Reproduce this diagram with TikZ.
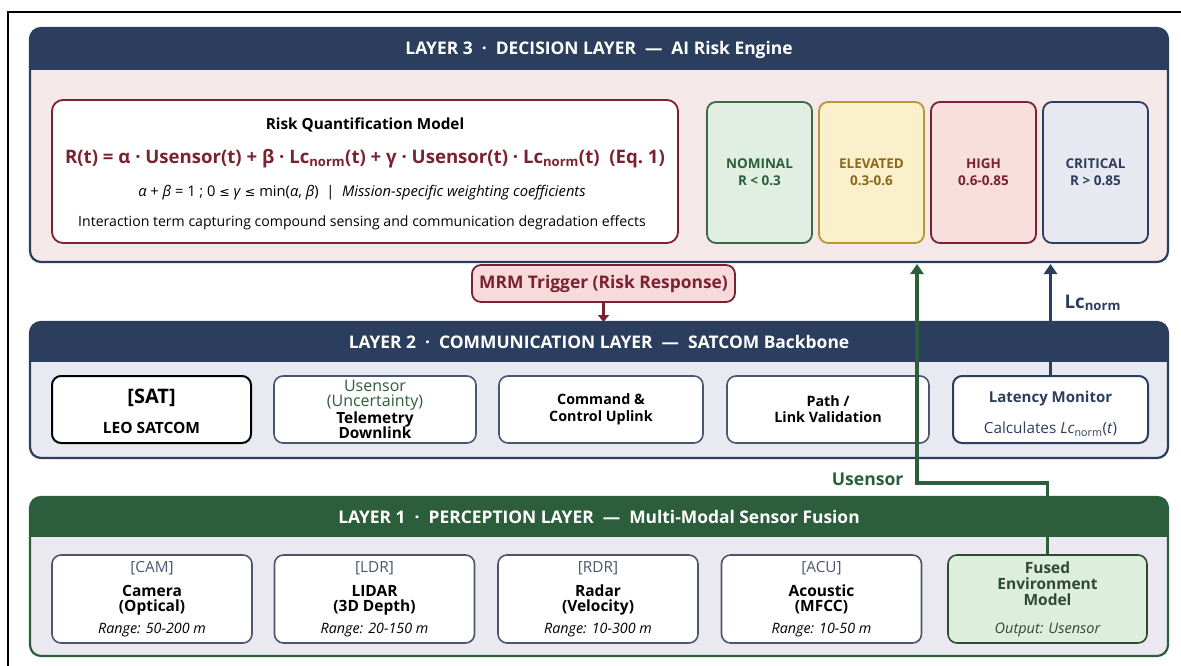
\documentclass[tikz,border=0pt]{standalone}
\usepackage{fontspec}
\setmainfont{Open Sans}
\newfontfamily\symfont{DejaVu Sans}
\usetikzlibrary{arrows.meta}

\definecolor{navy}{HTML}{2C3E5E}
\definecolor{leafgreen}{HTML}{2D5E3B}
\definecolor{wine}{HTML}{7B2231}
\definecolor{slateline}{HTML}{4A5670}
\definecolor{bodythree}{HTML}{F4E8E9}
\definecolor{bodytwo}{HTML}{E8EAF2}
\definecolor{bodyone}{HTML}{E9E9EF}
\definecolor{nomfill}{HTML}{E0EFE2}
\definecolor{nomline}{HTML}{3A6B45}
\definecolor{elefill}{HTML}{FBF0CC}
\definecolor{eleline}{HTML}{B8963A}
\definecolor{eletext}{HTML}{8C6A1A}
\definecolor{highfill}{HTML}{F9DEDE}
\definecolor{critfill}{HTML}{E7E8F0}
\definecolor{mrmfill}{HTML}{F6DADC}
\definecolor{fusedfill}{HTML}{DDEEDD}
\definecolor{fusedline}{HTML}{2E4A33}

\newcommand{\fs}[2]{\fontsize{#1}{#2}\selectfont}

\tikzset{
  hdrtext/.style={text=white, font=\bfseries\fs{17.4}{17}},
  levelbox/.style={rounded corners=9pt, line width=1.8pt, minimum width=105,
    minimum height=141, align=center, font=\bfseries\fs{13.5}{17}},
  commbox/.style={draw=slateline, fill=white, rounded corners=9pt, line width=1.6pt,
    minimum height=67, align=center},
  sensbox/.style={draw=slateline, fill=white, rounded corners=9pt, line width=1.6pt,
    minimum height=88, minimum width=200, align=center, font=\fs{15.5}{15}},
  flow/.style={line width=3.2pt, -{Triangle[width=13pt,length=10pt]}}
}

\begin{document}
\begin{tikzpicture}[x=1pt,y=-1pt]
\useasboundingbox (0,0) rectangle (1181,666);

% frame
\draw[line width=1.4pt] (8,666) -- (8,12) -- (1181,12);

% layer 3
\begin{scope}
  \clip[rounded corners=11pt] (30,28) rectangle (1168,262);
  \fill[bodythree] (30,28) rectangle (1168,262);
  \fill[navy] (30,28) rectangle (1168,70);
\end{scope}
\draw[navy, line width=2.2pt, rounded corners=11pt] (30,28) rectangle (1168,262);
\node[hdrtext] (head3) at (599,50) {LAYER 3~~·~~DECISION LAYER~~—~~AI Risk Engine};

\node[draw=wine, fill=white, rounded corners=11pt, line width=1.8pt,
  minimum width=626, minimum height=143] (risk) at (365,171.5) {};
\node[font=\bfseries\fs{15.3}{16}] (risktitle) at (365,125) {Risk Quantification Model};
\node[font=\bfseries\fs{18.6}{19}, text=wine] (riskeq) at (365,159)
  {R(t) = α · Usensor(t) + β · Lc\textsubscript{norm}(t) + γ · Usensor(t) · Lc\textsubscript{norm}(t)~~(Eq.~1)};
\node[font=\fs{14.7}{15}] (riskcon) at (362,193)
  {\textit{α} + \textit{β} = 1 ; 0 {\symfont\fs{12.5}{13}≤} \textit{γ} {\symfont\fs{12.5}{13}≤} min(\textit{α}, \textit{β})~~|~~\textit{Mission-specific weighting coefficients}};
\node[font=\fs{14.1}{15}] (riskint) at (362,223)
  {Interaction term capturing compound sensing and communication degradation effects};

\node[levelbox, draw=nomline, fill=nomfill, text=leafgreen] (nominal) at (759.5,172.5) {NOMINAL\\R < 0.3};
\node[levelbox, draw=eleline, fill=elefill, text=eletext] (elevated) at (871.5,172.5) {ELEVATED\\0.3-0.6};
\node[levelbox, draw=wine, fill=highfill, text=wine] (high) at (983.5,172.5) {HIGH\\0.6-0.85};
\node[levelbox, draw=navy, fill=critfill, text=navy] (critical) at (1095.5,172.5) {CRITICAL\\R > 0.85};

% MRM trigger
\node[draw=wine, fill=mrmfill, rounded corners=9pt, line width=1.8pt, text=wine,
  minimum width=263, minimum height=37, font=\bfseries\fs{17.4}{17}] (mrm) at (603.5,283.5)
  {MRM Trigger (Risk Response)};
\coordinate (mrmend) at (603.5,322);
\draw[wine, line width=2.6pt, -{Triangle[width=11pt,length=7pt]}] (mrm.south) -- (mrmend);

% layer 2
\begin{scope}
  \clip[rounded corners=11pt] (30,322) rectangle (1168,458);
  \fill[bodytwo] (30,322) rectangle (1168,458);
  \fill[navy] (30,322) rectangle (1168,362);
\end{scope}
\draw[navy, line width=2.2pt, rounded corners=11pt] (30,322) rectangle (1168,458);
\node[hdrtext] (head2) at (599,342) {LAYER 2~~·~~COMMUNICATION LAYER~~—~~SATCOM Backbone};

\node[commbox, draw=black, line width=2pt, minimum width=199, font=\bfseries\fs{15.5}{15}] (sat) at (151.5,409.5)
  {\rule{0pt}{19pt}{\fs{20}{15}[SAT]}\\[15pt]LEO SATCOM};
\node[commbox, minimum width=202, font=\fs{16}{15.5}] (telem) at (375,409.5)
  {\textcolor{leafgreen}{Usensor}\\\textcolor{leafgreen}{(Uncertainty)}\\{\bfseries\fs{15.4}{15.5}Telemetry}\\{\bfseries\fs{15.4}{15.5}Downlink}};
\node[commbox, minimum width=204, font=\bfseries\fs{14.3}{17}] (uplink) at (601,409.5)
  {Command \&\\Control Uplink};
\node[commbox, minimum width=202, font=\bfseries\fs{14.3}{16}] (path) at (828,409.5)
  {Path /\\Link Validation};
\node[commbox, draw=navy, line width=2pt, minimum width=195, text=navy, font=\fs{15}{15}] (latency) at (1050.5,409.5)
  {\rule{0pt}{20pt}\textbf{Latency Monitor}\\[15pt]{\fs{15.3}{15}Calculates \textit{Lc}\textsubscript{norm}(\textit{t})}};

% layer 1
\begin{scope}
  \clip[rounded corners=11pt] (30,497) rectangle (1168,656);
  \fill[bodyone] (30,497) rectangle (1168,656);
  \fill[leafgreen] (30,497) rectangle (1168,537);
\end{scope}
\draw[leafgreen, line width=2.2pt, rounded corners=11pt] (30,497) rectangle (1168,656);
\node[hdrtext] (head1) at (599,517) {LAYER 1~~·~~PERCEPTION LAYER~~—~~Multi-Modal Sensor Fusion};

\node[sensbox] (cam) at (152,599)
  {\textcolor{slateline}{\fs{15.3}{15}[CAM]}\\[9pt]\textbf{Camera}\\\textbf{(Optical)}\\[7pt]{\itshape\fs{14.3}{15}Range: 50-200 m}};
\node[sensbox] (lidar) at (374.5,599)
  {\textcolor{slateline}{\fs{15.3}{15}[LDR]}\\[9pt]\textbf{LIDAR}\\\textbf{(3D Depth)}\\[7pt]{\itshape\fs{14.3}{15}Range: 20-150 m}};
\node[sensbox] (radar) at (598,599)
  {\textcolor{slateline}{\fs{15.3}{15}[RDR]}\\[9pt]\textbf{Radar}\\\textbf{(Velocity)}\\[7pt]{\itshape\fs{14.3}{15}Range: 10-300 m}};
\node[sensbox] (acoustic) at (821.5,599)
  {\textcolor{slateline}{\fs{15.3}{15}[ACU]}\\[9pt]\textbf{Acoustic}\\\textbf{(MFCC)}\\[7pt]{\itshape\fs{14.3}{15}Range: 10-50 m}};
\node[sensbox, draw=fusedline, fill=fusedfill, text=fusedline, minimum width=199, font=\fs{15.5}{16}] (fused) at (1047.5,599)
  {\textbf{Fused}\\\textbf{Environment}\\\textbf{Model}\\[12pt]{\itshape\fs{14.5}{16}Output: Usensor}};

% cross-layer flows
\coordinate (gturn) at (917,483);
\coordinate (gtip) at (917,264);
\draw[flow, leafgreen] (fused.north) |- (gturn) -- (gtip);
\node[font=\bfseries\fs{17.6}{18}, text=leafgreen, anchor=east] (uslabel) at (907,479) {Usensor};

\draw[flow, navy] (latency.north) -- (latency.north |- gtip);
\node[font=\bfseries\fs{18.8}{19}, text=navy, anchor=west] (lclabel) at (1061,303) {Lc\textsubscript{norm}};

\end{tikzpicture}
\end{document}
